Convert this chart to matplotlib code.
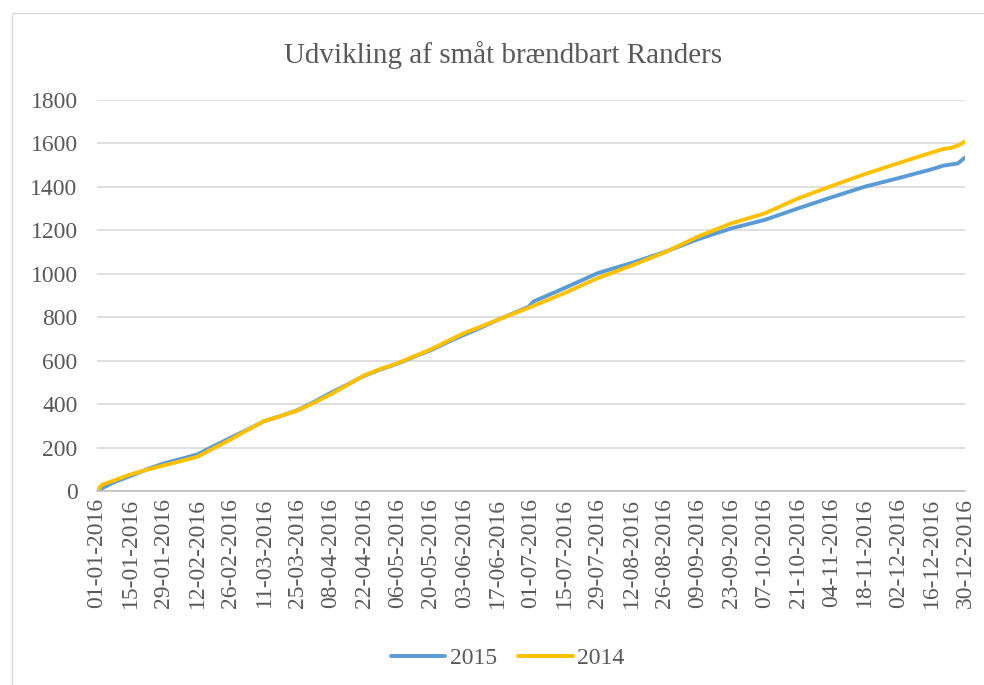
import pandas as pd
import matplotlib.pyplot as plt
import matplotlib.dates as mdates
from matplotlib.patches import Rectangle

# ==========================
# DATA
# ==========================

datoer = [
    "01-01-2016", "03-01-2016", "08-01-2016", "15-01-2016", "22-01-2016",
    "29-01-2016", "05-02-2016", "12-02-2016", "19-02-2016", "26-02-2016",
    "04-03-2016", "11-03-2016", "18-03-2016", "25-03-2016", "01-04-2016",
    "08-04-2016", "15-04-2016", "22-04-2016", "29-04-2016", "06-05-2016",
    "13-05-2016", "20-05-2016", "27-05-2016", "03-06-2016", "10-06-2016",
    "17-06-2016", "24-06-2016", "30-06-2016", "02-07-2016", "15-07-2016",
    "29-07-2016", "12-08-2016", "26-08-2016", "09-09-2016", "23-09-2016",
    "07-10-2016", "21-10-2016", "04-11-2016", "18-11-2016", "02-12-2016",
    "16-12-2016", "21-12-2016", "24-12-2016", "27-12-2016", "30-12-2016",
]

vaerdi_2015 = [
    0, 12, 40, 69, 100,
    127, 147, 168, 207, 245,
    282, 321, 345, 372, 410,
    452, 490, 530, 560, 586,
    618, 648, 685, 719, 752,
    788, 820, 848, 872, 934,
    1003, 1049, 1100, 1159, 1209,
    1248, 1301, 1352, 1401, 1440,
    1481, 1498, 1503, 1508, 1535,
]

vaerdi_2014 = [
    0, 28, 48, 76, 98,
    118, 137, 157, 197, 237,
    280, 321, 345, 370, 406,
    445, 488, 532, 562, 588,
    620, 652, 690, 727, 757,
    788, 818, 843, 852, 911,
    980, 1037, 1098, 1171, 1232,
    1278, 1347, 1404, 1459, 1509,
    1558, 1575, 1579, 1590, 1608,
]

tick_datoer = pd.date_range("2016-01-01", "2016-12-30", freq="14D")

# ==========================
# PLOT
# ==========================

plt.rcParams["font.family"] = ["Liberation Serif", "DejaVu Serif"]
tekst = "#595959"

x = pd.to_datetime(datoer, format="%d-%m-%Y")

fig = plt.figure(figsize=(9.84, 6.85), dpi=100)
ax = fig.add_axes([97 / 984, 1 - 491 / 685, 868 / 984, 391 / 685])

# chart border
fig.patches.append(
    Rectangle((12 / 984, -0.1), 1.1, 1 - 13 / 685 + 0.1,
              transform=fig.transFigure, fill=False,
              edgecolor="#D9D9D9", linewidth=1)
)

ax.plot(x, vaerdi_2015, color="#5B9BD5", linewidth=2.8,
        solid_capstyle="round", label="2015")
ax.plot(x, vaerdi_2014, color="#FFC000", linewidth=2.8,
        solid_capstyle="round", label="2014")

ax.set_xlim(tick_datoer[0], tick_datoer[-1])
ax.set_ylim(0, 1800)
ax.set_yticks(range(0, 1801, 200))
ax.set_xticks(tick_datoer)
ax.xaxis.set_major_formatter(mdates.DateFormatter("%d-%m-%Y"))

ax.grid(axis="y", color="#D9D9D9", linewidth=1.2)
ax.set_axisbelow(True)
for side in ["top", "right", "left"]:
    ax.spines[side].set_visible(False)
ax.spines["bottom"].set_color("#BFBFBF")
ax.spines["bottom"].set_linewidth(1.2)

ax.tick_params(axis="both", length=0, labelsize=17, colors=tekst)
ax.tick_params(axis="x", rotation=90, pad=5)
ax.tick_params(axis="y", pad=14)

fig.text(0.511, 1 - 55 / 685, "Udvikling af småt brændbart Randers",
         ha="center", va="center", fontsize=21, color=tekst)

leg = fig.legend(loc="center", bbox_to_anchor=(0.516, 1 - 658 / 685),
                 ncol=2, frameon=False, fontsize=17,
                 handlelength=2.3, handletextpad=0.2, columnspacing=0.9)
for t in leg.get_texts():
    t.set_color(tekst)

fig.savefig("out.png", dpi=100)
